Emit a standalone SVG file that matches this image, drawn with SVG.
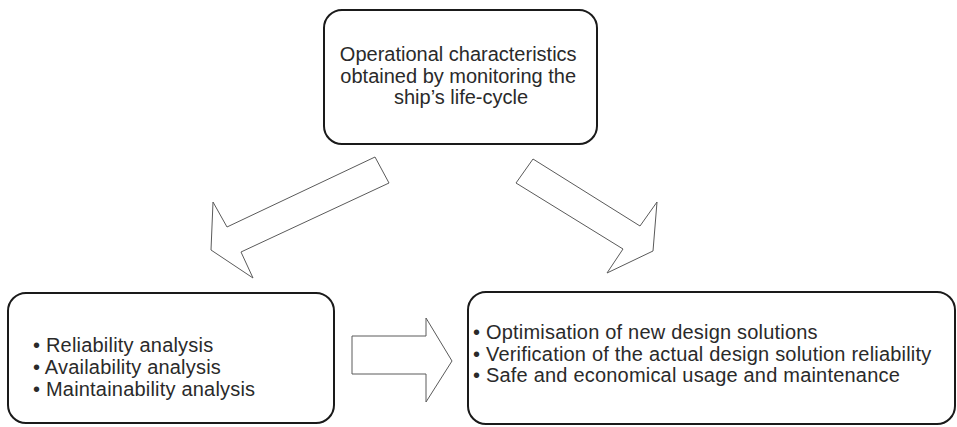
<svg xmlns="http://www.w3.org/2000/svg" width="957" height="427" viewBox="0 0 957 427">
  <style>
    .box { fill: #ffffff; stroke: #1a1a1a; stroke-width: 2; }
    .arrow { fill: #ffffff; stroke: #5a5a5a; stroke-width: 1; stroke-linejoin: miter; }
    .label { font-family: "Liberation Sans", Arial, sans-serif; font-size: 20px; fill: #2a2a2a; }
    .list { letter-spacing: 0.2px; }
  </style>
  <rect width="957" height="427" fill="#ffffff"/>

  <g id="connectors">
    <!-- top box to left box -->
    <polygon class="arrow" points="375,157 389,183 241,252 253,278 211,250 213,202 227,227"/>
    <!-- top box to right box -->
    <polygon class="arrow" points="533,159 640,226 657,202 653,251 607,273 623,249 516,183"/>
    <!-- left box to right box -->
    <polygon class="arrow" points="352,336 426,336 426,318 452,361 426,402 426,374 352,374"/>
  </g>

  <g id="node-operational">
    <rect class="box" x="324" y="10" width="273" height="134" rx="18" ry="18"/>
    <text class="label" text-anchor="middle">
      <tspan x="461" y="61">Operational characteristics</tspan>
      <tspan x="461" y="83">obtained by monitoring the</tspan>
      <tspan x="461" y="104">ship’s life-cycle</tspan>
    </text>
  </g>

  <g id="node-analysis">
    <rect class="box" x="8" y="293" width="326" height="130" rx="18" ry="18"/>
    <text class="label list">
      <tspan x="33" y="352">• Reliability analysis</tspan>
      <tspan x="33" y="374">• Availability analysis</tspan>
      <tspan x="33" y="396">• Maintainability analysis</tspan>
    </text>
  </g>

  <g id="node-outcomes">
    <rect class="box" x="468" y="292" width="487" height="132" rx="18" ry="18"/>
    <text class="label list">
      <tspan x="473" y="339">• Optimisation of new design solutions</tspan>
      <tspan x="473" y="361">• Verification of the actual design solution reliability</tspan>
      <tspan x="473" y="382">• Safe and economical usage and maintenance</tspan>
    </text>
  </g>
</svg>
